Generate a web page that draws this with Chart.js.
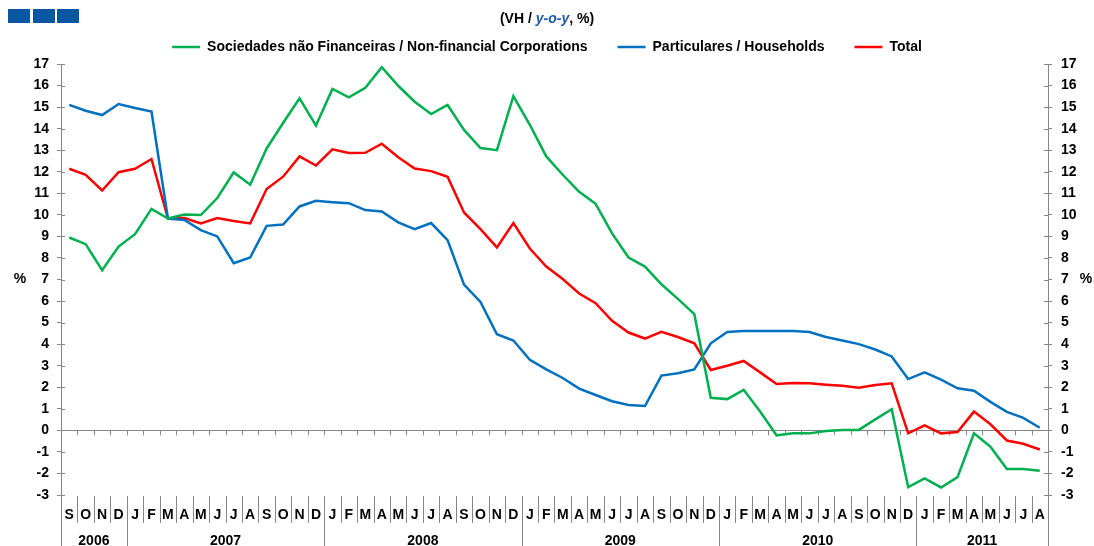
<!DOCTYPE html>
<html>
<head>
<meta charset="utf-8">
<script src="https://cdn.jsdelivr.net/npm/chart.js@4.4.1/dist/chart.umd.min.js"></script>
<style>
  body { margin: 0; background: #fff; }
  #wrap { position: relative; width: 1094px; height: 546px; overflow: hidden; }
  #chart { position: absolute; left: 0; top: 0; }
  .sq { position: absolute; top: 9px; width: 22px; height: 14px; background: #0b56a0; }
  #sub { position: absolute; top: 10px; left: 0; width: 1094px; text-align: center;
         font: bold 14px "Liberation Sans", Arial, sans-serif; color: #000; }
  #sub i { color: #1c5aa5; }
</style>
</head>
<body>
<div id="wrap">
  <canvas id="chart" width="1094" height="546"></canvas>
  <div class="sq" style="left:8px"></div>
  <div class="sq" style="left:33px"></div>
  <div class="sq" style="left:57px"></div>
  <div id="sub">(VH / <i>y-o-y</i>, %)</div>
</div>
<script>
// meses set 2006 -> ago 2011
const months = [
  "S","O","N","D",
  "J","F","M","A","M","J","J","A","S","O","N","D",
  "J","F","M","A","M","J","J","A","S","O","N","D",
  "J","F","M","A","M","J","J","A","S","O","N","D",
  "J","F","M","A","M","J","J","A","S","O","N","D",
  "J","F","M","A","M","J","J","A"
];
const years = ["2006","2007","2008","2009","2010","2011"];

const corporations = [
  8.95, 8.64, 7.43, 8.53,
  9.10, 10.28, 9.83, 10.02, 9.99, 10.78, 11.97, 11.40, 13.08, 14.26, 15.41, 14.14,
  15.84, 15.45, 15.90, 16.85, 15.99, 15.25, 14.68, 15.10, 13.94, 13.10, 13.00, 15.51,
  14.18, 12.71, 11.86, 11.07, 10.51, 9.14, 8.02, 7.60, 6.78, 6.10, 5.39, 1.51,
  1.45, 1.88, 0.87, -0.23, -0.14, -0.14, -0.03, 0.02, 0.02, 0.51, 0.98, -2.63,
  -2.23, -2.65, -2.17, -0.14, -0.76, -1.79, -1.79, -1.88
];
const households = [
  15.10, 14.83, 14.63, 15.14,
  14.96, 14.79, 9.83, 9.76, 9.29, 9.00, 7.76, 8.02, 9.49, 9.55, 10.39, 10.65,
  10.59, 10.54, 10.22, 10.16, 9.65, 9.34, 9.62, 8.83, 6.76, 5.96, 4.46, 4.17,
  3.27, 2.83, 2.43, 1.94, 1.64, 1.35, 1.18, 1.13, 2.54, 2.65, 2.83, 4.04,
  4.56, 4.61, 4.61, 4.61, 4.61, 4.56, 4.33, 4.17, 4.00, 3.75, 3.43, 2.38,
  2.69, 2.35, 1.95, 1.84, 1.32, 0.86, 0.58, 0.12
];
const total = [
  12.14, 11.86, 11.13, 11.98,
  12.14, 12.59, 9.83, 9.85, 9.60, 9.85, 9.71, 9.60, 11.20, 11.77, 12.71, 12.29,
  13.04, 12.87, 12.88, 13.30, 12.67, 12.15, 12.03, 11.77, 10.11, 9.34, 8.49, 9.62,
  8.44, 7.60, 7.02, 6.35, 5.90, 5.08, 4.54, 4.26, 4.57, 4.33, 4.04, 2.80,
  3.00, 3.22, 2.69, 2.15, 2.20, 2.18, 2.12, 2.07, 1.98, 2.10, 2.18, -0.14,
  0.23, -0.14, -0.08, 0.87, 0.28, -0.47, -0.62, -0.89
];

const FONT = "'Liberation Sans', Arial, sans-serif";
const AXIS = "#868686";

// eixo do zero, marcas e faixa de meses/anos por baixo
const bandPlugin = {
  id: "band",
  beforeDatasetsDraw(chart) {
    const { ctx, chartArea, scales } = chart;
    const x = scales.x, y = scales.y;
    const y0 = y.getPixelForValue(0);
    const step = (chartArea.right - chartArea.left) / months.length;
    ctx.save();
    ctx.strokeStyle = AXIS;
    ctx.lineWidth = 1;
    ctx.beginPath();
    ctx.moveTo(chartArea.left, Math.round(y0) + 0.5);
    ctx.lineTo(chartArea.right, Math.round(y0) + 0.5);
    for (let i = 1; i < months.length; i++) {
      const bx = Math.round(x.getPixelForValue(i) - step / 2) + 0.5;
      ctx.moveTo(bx, y0);
      ctx.lineTo(bx, y0 + 5);
    }
    // parte interior das marcas do eixo y
    y.ticks.forEach((t) => {
      const py = Math.round(y.getPixelForValue(t.value)) + 0.5;
      ctx.moveTo(chartArea.left, py);
      ctx.lineTo(chartArea.left + 4, py);
      ctx.moveTo(chartArea.right - 4, py);
      ctx.lineTo(chartArea.right, py);
    });
    ctx.stroke();
    ctx.restore();
  },
  afterDraw(chart) {
    const { ctx, chartArea, scales, height } = chart;
    const x = scales.x, y = scales.y;
    const step = (chartArea.right - chartArea.left) / months.length;
    const top = chartArea.bottom;
    ctx.save();
    ctx.strokeStyle = AXIS;
    ctx.lineWidth = 1;
    ctx.beginPath();
    ctx.moveTo(chartArea.left + 0.5, top);
    ctx.lineTo(chartArea.left + 0.5, height);
    ctx.moveTo(chartArea.right + 0.5, top);
    ctx.lineTo(chartArea.right + 0.5, height);
    const starts = [0];
    for (let i = 1; i < months.length; i++) {
      const bx = Math.round(x.getPixelForValue(i) - step / 2) + 0.5;
      const newYear = months[i - 1] === "D";
      if (newYear) starts.push(i);
      ctx.moveTo(bx, top + 1);
      ctx.lineTo(bx, newYear ? height : top + 28);
    }
    ctx.stroke();

    ctx.fillStyle = "#000";
    ctx.font = "bold 14px " + FONT;
    ctx.textAlign = "center";
    ctx.textBaseline = "middle";
    months.forEach((m, i) => ctx.fillText(m, x.getPixelForValue(i), top + 20));
    starts.push(months.length);
    years.forEach((yr, k) => {
      const a = x.getPixelForValue(starts[k]) - step / 2;
      const b = x.getPixelForValue(starts[k + 1] - 1) + step / 2;
      ctx.fillText(yr, (a + b) / 2, top + 46);
    });
    const p7 = y.getPixelForValue(7);
    ctx.fillText("%", 20, p7);
    ctx.fillText("%", 1086, p7);
    ctx.restore();
  },
};

const yAxis = (pos, w, pad) => ({
  position: pos,
  min: -3,
  max: 17,
  ticks: { stepSize: 1, color: "#000", font: { family: FONT, size: 14, weight: "bold" }, padding: pad },
  grid: { drawOnChartArea: false, drawTicks: true, tickLength: 4, color: AXIS },
  border: { color: AXIS },
  afterFit: (s) => { s.width = w; },
});

const mkLine = (label, data, color) => ({
  label,
  data,
  borderColor: color,
  backgroundColor: color,
  borderWidth: 2.5,
  pointRadius: 0,
  tension: 0,
  fill: false,
});

new Chart(document.getElementById("chart").getContext("2d"), {
  type: "line",
  data: {
    labels: months,
    datasets: [
      mkLine("Sociedades não Financeiras / Non-financial Corporations", corporations, "#00b050"),
      mkLine("Particulares / Households", households, "#0070c0"),
      mkLine("Total", total, "#ff0000"),
    ],
  },
  options: {
    responsive: false,
    animation: false,
    layout: { padding: { top: 10, left: 0, right: 0, bottom: 0 } },
    scales: {
      x: {
        offset: true,
        ticks: { display: false },
        grid: { display: false },
        border: { display: false },
        afterFit: (s) => { s.height = 51; },
      },
      y: yAxis("left", 61, 8),
      y2: yAxis("right", 46, 9),
    },
    plugins: {
      legend: {
        labels: {
          color: "#000",
          font: { family: FONT, size: 14, weight: "bold" },
          usePointStyle: true,
          pointStyle: "line",
          pointStyleWidth: 28,
          padding: 30,
        },
      },
      tooltip: { enabled: false },
    },
  },
  plugins: [bandPlugin],
});
</script>
</body>
</html>
